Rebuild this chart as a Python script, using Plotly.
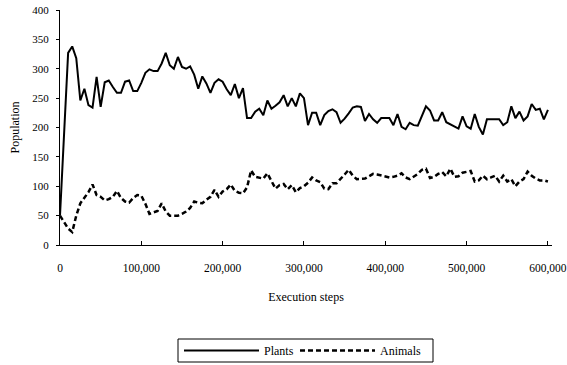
import plotly.graph_objects as go

# ---- data ----
steps = list(range(0, 600001, 5000))

plants = [
    50, 188, 327, 338, 318, 246, 266, 238, 234, 286,
    235, 277, 280, 269, 259, 259, 278, 280, 262, 262,
    276, 293, 299, 296, 296, 309, 327, 306, 300, 320,
    303, 300, 304, 290, 266, 287, 275, 259, 276, 282,
    278, 265, 255, 274, 250, 267, 216, 216, 227, 232,
    221, 246, 232, 237, 243, 255, 236, 250, 236, 258,
    250, 204, 225, 225, 204, 221, 228, 231, 226, 208,
    215, 224, 234, 236, 235, 211, 223, 214, 208, 216,
    216, 216, 204, 223, 201, 197, 208, 204, 203, 220,
    236, 229, 212, 212, 226, 209, 205, 202, 198, 219,
    202, 198, 223, 201, 188, 214, 214, 214, 214, 204,
    209, 236, 216, 227, 212, 219, 240, 230, 232, 214,
    230,
]

animals = [
    50, 38, 28, 22, 50, 71, 80, 90, 103, 85,
    82, 76, 78, 82, 92, 80, 74, 72, 80, 85,
    84, 70, 53, 55, 58, 71, 57, 50, 50, 50,
    53, 57, 63, 74, 72, 71, 77, 82, 94, 82,
    91, 95, 103, 92, 89, 88, 98, 127, 116, 114,
    113, 122, 110, 96, 102, 104, 95, 102, 90, 97,
    100, 106, 115, 110, 107, 96, 95, 105, 105, 112,
    120, 128, 118, 112, 112, 113, 117, 121, 120, 118,
    117, 115, 116, 118, 122, 115, 112, 116, 121, 128,
    130, 114, 116, 121, 124, 117, 130, 116, 117, 123,
    125, 126, 108, 110, 118, 112, 115, 118, 108, 118,
    108, 112, 100, 108, 112, 125, 118, 113, 110, 110,
    108,
]

x_ticks = [0, 100000, 200000, 300000, 400000, 500000, 600000]
y_ticks = [0, 50, 100, 150, 200, 250, 300, 350, 400]
series_names = ["Plants", "Animals"]

# ---- layout constants ----
W, H = 567, 365
L, R, T, B = 60, 15, 10, 120
pw, ph = W - L - R, H - T - B
FONT = "Liberation Serif"
ANIMAL_DASH = "5px,3px"


def px(x):
    return (x - L) / pw


def py(y):
    return (H - B - y) / ph


fig = go.Figure()
fig.add_trace(go.Scatter(
    x=steps, y=plants, mode="lines", name=series_names[0],
    line=dict(color="black", width=2), showlegend=False))
fig.add_trace(go.Scatter(
    x=steps, y=animals, mode="lines", name=series_names[1],
    line=dict(color="black", width=2.5, dash=ANIMAL_DASH), showlegend=False))

fig.update_layout(
    width=W, height=H, autosize=False,
    margin=dict(l=L, r=R, t=T, b=B, pad=0, autoexpand=False),
    paper_bgcolor="white", plot_bgcolor="white",
    font=dict(family=FONT, color="black", size=11),
)
fig.update_xaxes(
    range=[0, 605000], tickvals=x_ticks, tickformat=",d", automargin=False,
    showline=True, linecolor="black", linewidth=1,
    ticks="inside", ticklen=4, tickcolor="black", tickwidth=1,
    showgrid=False, zeroline=False,
    tickfont=dict(size=11.5), ticklabelstandoff=12,
    title=dict(text="Execution steps", font=dict(size=12), standoff=18),
)
fig.update_yaxes(
    range=[0, 400], tickvals=y_ticks, automargin=False,
    showline=True, linecolor="black", linewidth=1,
    ticks="outside", ticklen=3, tickcolor="black", tickwidth=1,
    showgrid=False, zeroline=False,
    tickfont=dict(size=11), ticklabelstandoff=5,
    title=dict(text="Population", font=dict(size=12), standoff=10),
)

# ---- legend box drawn below the plot ----
leg_y = py(350.5)
fig.add_shape(type="rect", xref="paper", yref="paper",
              x0=px(178), x1=px(433), y0=py(362), y1=py(339),
              line=dict(color="black", width=1), fillcolor="white")
fig.add_shape(type="line", xref="paper", yref="paper",
              x0=px(184), x1=px(259), y0=leg_y, y1=leg_y,
              line=dict(color="black", width=2))
fig.add_shape(type="line", xref="paper", yref="paper",
              x0=px(300), x1=px(375), y0=leg_y, y1=leg_y,
              line=dict(color="black", width=2.5, dash=ANIMAL_DASH))
fig.add_annotation(text=series_names[0], xref="paper", yref="paper",
                   x=px(262), y=leg_y, xanchor="left", yanchor="middle",
                   showarrow=False, font=dict(size=12))
fig.add_annotation(text=series_names[1], xref="paper", yref="paper",
                   x=px(378), y=leg_y, xanchor="left", yanchor="middle",
                   showarrow=False, font=dict(size=12))

fig.write_html("out.html")
